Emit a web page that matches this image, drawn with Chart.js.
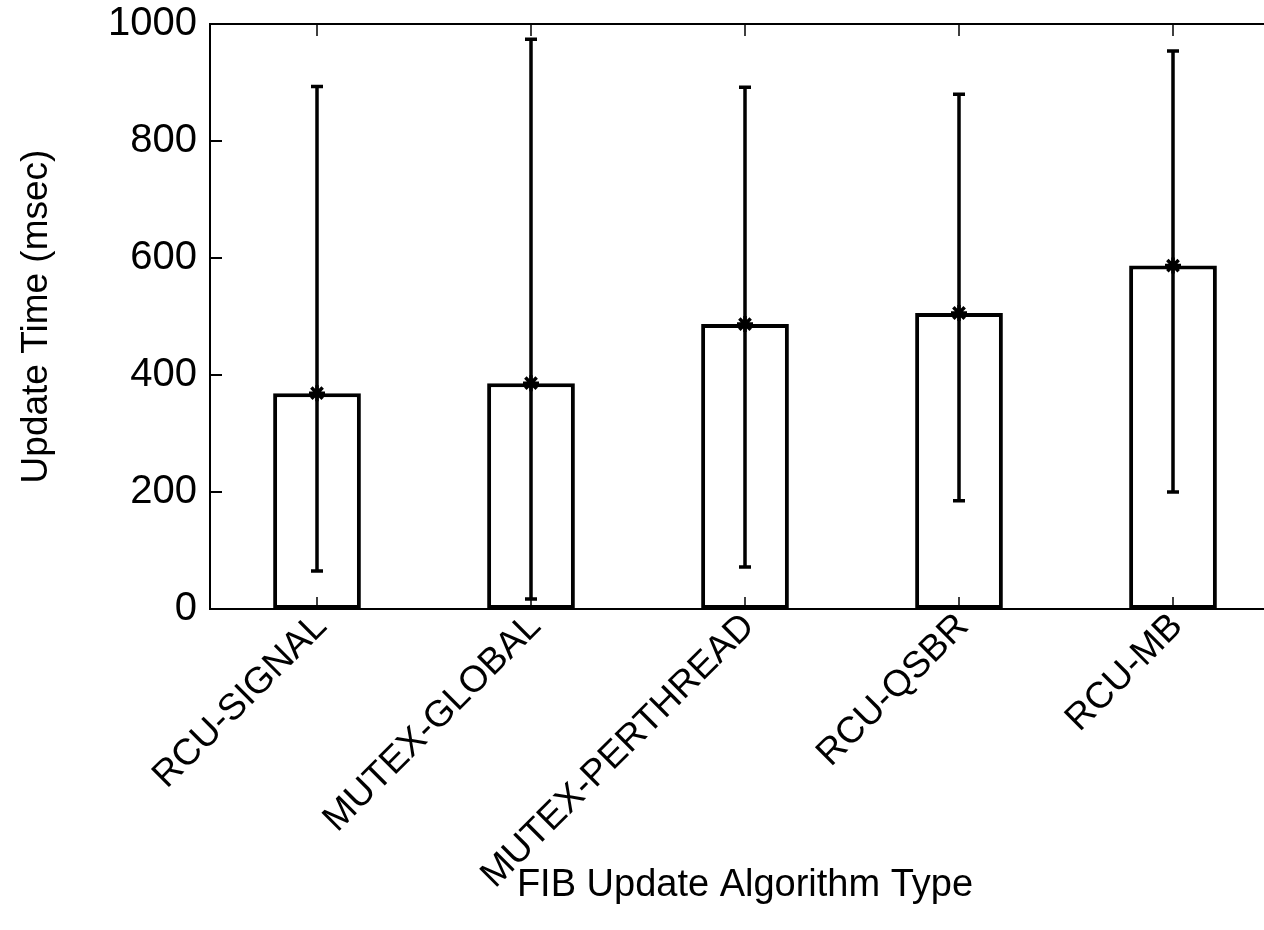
<!DOCTYPE html>
<html>
<head>
<meta charset="utf-8">
<script src="https://cdn.jsdelivr.net/npm/chart.js@4/dist/chart.umd.min.js"></script>
<style>
  html, body { margin: 0; padding: 0; background: #fff; overflow: hidden; }
  #wrap { width: 1300px; height: 930px; }
</style>
</head>
<body>
<div id="wrap"><canvas id="c" width="1300" height="930"></canvas></div>
<script>
// FIB update algorithms and their update time statistics (msec)
const categories = ['RCU-SIGNAL', 'MUTEX-GLOBAL', 'MUTEX-PERTHREAD', 'RCU-QSBR', 'RCU-MB'];
const meanTimes = [369, 386, 487, 506, 587];
const minTimes = [65, 17, 72, 185, 200];
const maxTimes = [893, 974, 892, 880, 954];
const yTicks = [0, 200, 400, 600, 800, 1000];

const FONT = 'Liberation Sans, Arial, Helvetica, sans-serif';

// Frame with inward tick marks, plus min/max whiskers
const framePlugin = {
  id: 'frame',
  afterDatasetsDraw(chart) {
    const { ctx, chartArea: a, scales } = chart;
    const x = scales.x, y = scales.y;
    ctx.save();
    ctx.strokeStyle = '#000';
    ctx.lineCap = 'butt';

    // whiskers
    ctx.lineWidth = 3.5;
    categories.forEach((c, i) => {
      const px = x.getPixelForValue(i);
      const top = y.getPixelForValue(maxTimes[i]);
      const bot = y.getPixelForValue(minTimes[i]);
      ctx.beginPath();
      ctx.moveTo(px, top);
      ctx.lineTo(px, bot);
      ctx.moveTo(px - 6, top);
      ctx.lineTo(px + 6, top);
      ctx.moveTo(px - 6, bot);
      ctx.lineTo(px + 6, bot);
      ctx.stroke();
    });

    // frame
    ctx.lineWidth = 2;
    ctx.strokeRect(a.left, a.top, a.right - a.left, a.bottom - a.top);

    // y ticks (inward, both sides)
    ctx.lineWidth = 2;
    yTicks.forEach(v => {
      const py = y.getPixelForValue(v);
      ctx.beginPath();
      ctx.moveTo(a.left, py); ctx.lineTo(a.left + 12, py);
      ctx.moveTo(a.right, py); ctx.lineTo(a.right - 12, py);
      ctx.stroke();
    });

    // x ticks (inward, top and bottom)
    ctx.lineWidth = 1.5;
    categories.forEach((c, i) => {
      const px = x.getPixelForValue(i);
      ctx.beginPath();
      ctx.moveTo(px, a.bottom); ctx.lineTo(px, a.bottom - 12);
      ctx.moveTo(px, a.top); ctx.lineTo(px, a.top + 12);
      ctx.stroke();
    });
    ctx.restore();
  }
};

new Chart(document.getElementById('c'), {
  data: {
    labels: categories,
    datasets: [
      {
        type: 'bar',
        data: meanTimes,
        backgroundColor: '#fff',
        borderColor: '#000',
        borderWidth: 4,
        borderSkipped: false,
        barPercentage: 0.41,
        categoryPercentage: 1.0,
        order: 2
      },
      {
        type: 'line',
        data: meanTimes,
        showLine: false,
        pointStyle: 'star',
        pointRadius: 8,
        pointBorderWidth: 3.5,
        pointBorderColor: '#000',
        pointBackgroundColor: '#000',
        order: 1
      }
    ]
  },
  options: {
    responsive: false,
    animation: false,
    devicePixelRatio: 1,
    layout: { padding: { top: 24, right: 20, left: 0, bottom: 0 } },
    plugins: { legend: { display: false }, tooltip: { enabled: false } },
    scales: {
      x: {
        type: 'category',
        offset: true,
        grid: { display: false, drawTicks: false },
        border: { display: false },
        ticks: {
          autoSkip: false,
          minRotation: 45,
          maxRotation: 45,
          padding: -4,
          labelOffset: 4,
          color: '#000',
          font: { family: FONT, size: 37 }
        },
        title: {
          display: true,
          text: 'FIB Update Algorithm Type',
          color: '#000',
          font: { family: FONT, size: 38 },
          padding: { top: 0, bottom: 22 }
        },
        afterFit(scale) {
          scale.height = 321;
          scale.paddingLeft = 0;
          scale.paddingRight = 0;
        }
      },
      y: {
        min: 0,
        max: 1000,
        grid: { display: false, drawTicks: false },
        border: { display: false },
        afterBuildTicks(scale) { scale.ticks = yTicks.map(v => ({ value: v })); },
        ticks: {
          padding: 13,
          color: '#000',
          font: { family: FONT, size: 40 },
          callback: v => String(v)
        },
        title: {
          display: true,
          text: 'Update Time (msec)',
          color: '#000',
          font: { family: FONT, size: 37 },
          padding: { top: 15, bottom: 0 }
        },
        afterFit(scale) {
          scale.width = 210;
          scale.paddingTop = 0;
          scale.paddingBottom = 0;
        }
      }
    }
  },
  plugins: [framePlugin]
});
</script>
</body>
</html>
